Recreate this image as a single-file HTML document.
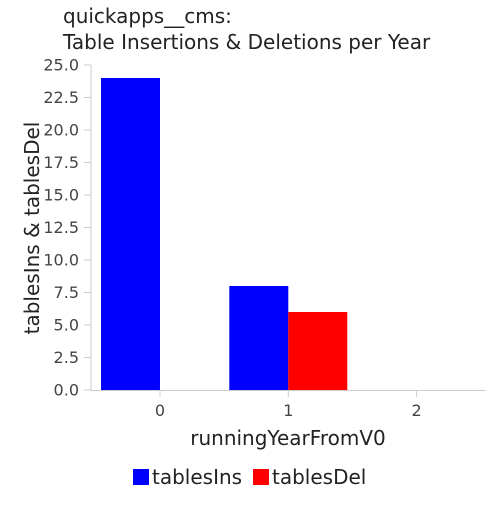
<!DOCTYPE html>
<html><head><style>
body{margin:0;background:#fff}
svg text{font-family:"DejaVu Sans","Liberation Sans",sans-serif}
</style></head><body>
<svg id="c" width="500" height="500" xmlns="http://www.w3.org/2000/svg">
<rect width="500" height="500" fill="#fff"/>
<text x="63" y="23" font-size="20" fill="#222">quickapps__cms:</text>
<text x="63" y="49" font-size="20" fill="#222">Table Insertions &amp; Deletions per Year</text>
<g id="plot"></g>
<text transform="translate(39,228) rotate(-90)" text-anchor="middle" font-size="20" fill="#222">tablesIns &amp; tablesDel</text>
<text x="288" y="445" text-anchor="middle" font-size="20" fill="#222">runningYearFromV0</text>
<g>
<rect x="133" y="469" width="16" height="16" fill="#00f"/>
<text x="152" y="484" font-size="20" fill="#222">tablesIns</text>
<rect x="253" y="469" width="16" height="16" fill="#f00"/>
<text x="272" y="484" font-size="20" fill="#222">tablesDel</text>
</g>
</svg>
<script>
const categories=[0,1,2];
const tablesIns=[24,8,0];
const tablesDel=[0,6,0];
const yTicks=[0,2.5,5,7.5,10,12.5,15,17.5,20,22.5,25];
const NS="http://www.w3.org/2000/svg";
const g=document.getElementById('plot');
const yS=v=>390-v*13;
const xS=i=>160+128.3*i;
const bw=59;
function mk(t,a){const e=document.createElementNS(NS,t);for(const k in a)e.setAttribute(k,a[k]);g.appendChild(e);return e;}
let l=mk('line',{x1:91,x2:91,y1:65,y2:390,stroke:'#ccc'});


l=mk('line',{x1:91,x2:486,y1:390.5,y2:390.5,stroke:'#ccc'});


yTicks.forEach(v=>{
 const t=mk('line',{x1:84,x2:91,y1:yS(v),y2:yS(v),stroke:'#ccc'});
 
 
 const tx=mk('text',{x:79,y:yS(v)+5.5,'text-anchor':'end','font-size':16,fill:'#444'});
 tx.textContent=v.toFixed(1);
 
 
});
categories.forEach((c,i)=>{
 const x=xS(i);
 const t=mk('line',{x1:x,x2:x,y1:390,y2:397,stroke:'#ccc'});
 
 
 const tx=mk('text',{x:x,y:416,'text-anchor':'middle','font-size':16,fill:'#444'});
 tx.textContent=c;
 
 
 if(tablesIns[i]>0){
  const b=mk('rect',{x:x-bw,y:yS(tablesIns[i]),width:bw,height:390-yS(tablesIns[i]),fill:'#00f'});
  
  
 }
 if(tablesDel[i]>0){
  const b=mk('rect',{x:x,y:yS(tablesDel[i]),width:bw,height:390-yS(tablesDel[i]),fill:'#f00'});
  
  
 }
});
</script>
</body></html>
